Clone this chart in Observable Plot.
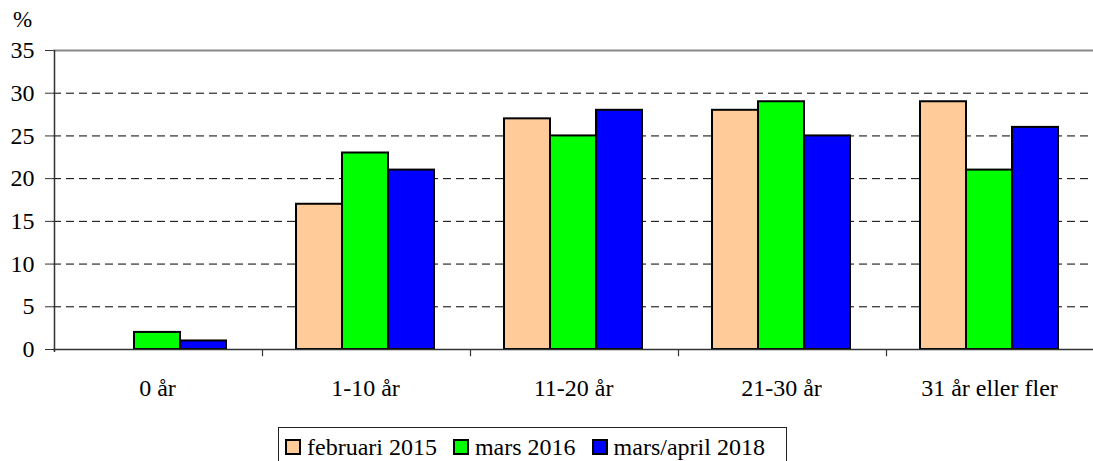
<!DOCTYPE html>
<html>
<head>
<meta charset="utf-8">
<script src="https://cdn.jsdelivr.net/npm/d3@7"></script>
<script src="https://cdn.jsdelivr.net/npm/@observablehq/plot@0.6"></script>
<style>
  html, body { margin: 0; padding: 0; background: #fff; }
  body { width: 1093px; height: 461px; position: relative; overflow: hidden; font-family: "Liberation Serif", "Times New Roman", Times, "DejaVu Serif", serif; }
  #chart { position: absolute; left: 0; top: 0; }
  #pct { position: absolute; left: 13px; top: 8px; font-size: 23px; line-height: 1; color: #000; }
  #legend { position: absolute; left: 278px; top: 427px; width: 509px; height: 44px; border: 1px solid #222; box-sizing: border-box; display: flex; align-items: center; height: 40px; padding: 0 0 0 6px; font-size: 24px; line-height: 1; color: #000; }
  .item { display: flex; align-items: center; margin-right: 16px; white-space: nowrap; }
  .sw { width: 12px; height: 12px; border: 2px solid #000; margin-right: 6px; }
</style>
</head>
<body>
<div id="chart"></div>
<div id="pct">%</div>
<div id="legend"></div>
<script>
const categories = ["0 år", "1-10 år", "11-20 år", "21-30 år", "31 år eller fler"];
const series = ["februari 2015", "mars 2016", "mars/april 2018"];
const feb2015 = [0, 17, 27, 28, 29];
const mars2016 = [2, 23, 25, 29, 21];
const marsApril2018 = [1, 21, 28, 25, 26];
const yTicks = [0, 5, 10, 15, 20, 25, 30, 35];
const colors = ["#FFCC99", "#00FF00", "#0000FF"];

const valuesBySeries = [feb2015, mars2016, marsApril2018];
const data = [];
categories.forEach((c, i) => {
  series.forEach((s, j) => data.push({category: c, series: s, value: valuesBySeries[j][i]}));
});
const firsts = categories.map(c => ({category: c, series: series[0]}));
const serif = "'Liberation Serif', 'Times New Roman', Times, 'DejaVu Serif', serif";

const chart = Plot.plot({
  width: 1093,
  height: 415,
  marginLeft: 53,
  marginRight: 0,
  marginTop: 50,
  marginBottom: 66,
  style: {fontFamily: serif, fontSize: "24px", color: "#000", background: "white", overflow: "visible"},
  fx: {domain: categories, padding: 0, label: null, axis: null},
  x: {domain: series, paddingInner: 0, paddingOuter: 0.713, axis: null},
  y: {domain: [0, 35], label: null, axis: null},
  color: {domain: series, range: colors},
  marks: [
    Plot.ruleY(yTicks.filter(t => t > 0 && t < 35), {stroke: "#000", strokeWidth: 1, strokeDasharray: "8,5"}),
    Plot.ruleY([35], {stroke: "#888", strokeWidth: 2}),
    Plot.barY(data.filter(d => d.value > 0), {fx: "category", x: "series", y: "value", fill: "series", stroke: "#000", strokeWidth: 2}),
    Plot.ruleY([0], {stroke: "#333", strokeWidth: 1.5}),
    Plot.ruleX(firsts.slice(1), {fx: "category", x: "series", y1: 0, y2: -0.85, dx: -57, stroke: "#333", strokeWidth: 1.2, clip: false}),
    Plot.ruleX(firsts.slice(0, 1), {fx: "category", x: "series", y1: 35, y2: -0.35, dx: -57, stroke: "#333", strokeWidth: 1.5, clip: false}),
    Plot.axisY({ticks: yTicks, tickSize: 8, tickPadding: 11, stroke: "#333", label: null, fontSize: 24, fontFamily: serif}),
    Plot.axisFx({anchor: "bottom", tickSize: 0, tickPadding: 29, label: null, fontSize: 24, fontFamily: serif})
  ]
});
document.getElementById("chart").appendChild(chart);

const legend = document.getElementById("legend");
series.forEach((s, j) => {
  const it = document.createElement("div");
  it.className = "item";
  const sw = document.createElement("div");
  sw.className = "sw";
  sw.style.background = colors[j];
  const t = document.createElement("span");
  t.textContent = s;
  it.appendChild(sw);
  it.appendChild(t);
  legend.appendChild(it);
});
</script>
</body>
</html>
